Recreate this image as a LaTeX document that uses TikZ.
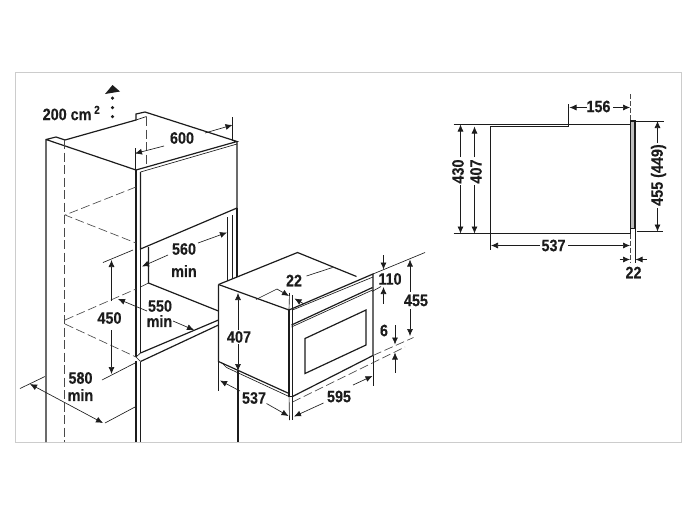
\documentclass[tikz,border=0pt]{standalone}
\usepackage{fontspec}
\usetikzlibrary{arrows.meta}
\newfontfamily\dimfont{Liberation Sans Bold}[FakeStretch=0.87,FakeBold=0.25]
\definecolor{ink}{HTML}{1c1c1c}
\tikzset{
  dimtext/.style={font=\dimfont\fontsize{16.5}{16.5}\selectfont,text=ink,inner sep=0pt},
  body/.style={draw=ink,line width=1.2pt},
  thin/.style={draw=ink,line width=0.65pt},
  hidden/.style={draw=ink!80,line width=0.65pt,dash pattern=on 9pt off 3.5pt},
  dimarrow/.style={draw=ink,line width=0.65pt,-{Latex[length=7pt,width=6pt]}},
}
\begin{document}
\begin{tikzpicture}[x=1pt,y=-1pt]
\useasboundingbox (0,0) rectangle (700,525);
\draw[color=black!20,line width=1pt] (15,72.5) rectangle (681.5,442);

% cabinet
\coordinate (c1) at (46,442);
\coordinate (c2) at (46,139.5);
\coordinate (c3) at (56,137);
\coordinate (c4) at (65,140);
\coordinate (c5) at (136,120);
\coordinate (c6) at (136,114);
\coordinate (c7) at (145,112);
\coordinate (c8) at (146.5,116.5);
\coordinate (c9) at (237,141.5);
\coordinate (c10) at (136,170);
\coordinate (c11) at (237,208);
\coordinate (c12) at (140.5,249);
\coordinate (c13) at (140.5,172);
\coordinate (c14) at (237,144);
\coordinate (c15) at (136,357);
\coordinate (c16) at (136,361);
\coordinate (c17) at (136,442);
\coordinate (c18) at (140.5,353);
\coordinate (c19) at (140.5,361.5);
\coordinate (c20) at (140.5,442);
\coordinate (c21) at (148.5,247);
\coordinate (c22) at (148.5,283);
\coordinate (c23) at (140.5,287);
\coordinate (c24) at (218.5,311);
\coordinate (c25) at (218.5,320);
\coordinate (c26) at (218.5,325);
\coordinate (c27) at (227.5,217);
\coordinate (c28) at (227.5,281);
\coordinate (c29) at (232.5,215);
\coordinate (c30) at (232.5,279);
\coordinate (c31) at (237,277);
\draw[body] (c1) -- (c2) -- (c3) -- (c4) -- (c5) -- (c6) -- (c7) -- (c9) -- (c10) -- (c2);
\draw[body] (c10) -- (c15);
\draw[body] (c16) -- (c17);
\draw[body] (c13) -- (c12) -- (c11) -- (c9);
\draw[thin] (c13) -- (c14);
\draw[thin] (c5) -- (c8);
\draw[body] (c18) -- (c13);
\draw[body] (c19) -- (c20);
\draw[body] (c21) -- (c22) -- (c24);
\draw[thin] (c22) -- (c23);
\draw[body] (c18) -- (c25);
\draw[body] (c19) -- (c26);
\draw[thin] (c15) -- (c18);
\draw[thin] (c15) -- (c19);
\draw[thin] (c27) -- (c28);
\draw[thin] (c29) -- (c30);
\draw[body] (c11) -- (c31);

% hidden edges
\coordinate (h1) at (64.5,140);
\coordinate (h2) at (64.5,442);
\coordinate (h3) at (146.5,117);
\coordinate (h4) at (146.5,168);
\coordinate (h5) at (65,215);
\coordinate (h6) at (136,187);
\coordinate (h7) at (136,243);
\coordinate (h8) at (65,320);
\coordinate (h9) at (136,289);
\coordinate (h10) at (65,324);
\coordinate (h11) at (136,357);
\draw[hidden] (h1) -- (h2);
\draw[hidden] (h3) -- (h4);
\draw[hidden] (h6) -- (h5) -- (h7);
\draw[hidden] (h8) -- (h9);
\draw[hidden] (h10) -- (h11);

% vent
\coordinate (a1) at (112.5,85);
\coordinate (a2) at (105,94);
\coordinate (a3) at (120,91.5);
\fill[ink] (a1) -- (a2) -- (a3) -- cycle;
\foreach \dotname/\ypos in {d1/98,d2/107.5,d3/116.5}{
  \node[fill=ink,circle,inner sep=0pt,minimum size=3.5pt] (\dotname) at (112.5,\ypos) {};
}
\node[dimtext] (t200) at (71.5,113) {200 cm\,\textsuperscript{2}};

% cabinet dimensions
\node[dimtext] (t600) at (182,138) {600};
\coordinate (w1) at (164,146);
\coordinate (w2) at (135,153.5);
\coordinate (w3) at (205,133);
\coordinate (w4) at (232.5,125);
\coordinate (w5) at (232.5,117);
\coordinate (w6) at (232.5,141);
\coordinate (w7) at (135,148);
\coordinate (w8) at (135,170);
\draw[dimarrow] (w1) -- (w2);
\draw[dimarrow] (w3) -- (w4);
\draw[thin] (w5) -- (w6);
\draw[thin] (w7) -- (w8);

\node[dimtext] (t560) at (184,249) {560};
\node[dimtext] (t560m) at (184,271) {min};
\coordinate (m1) at (198,243);
\coordinate (m2) at (227,232.5);
\coordinate (m3) at (168,255);
\coordinate (m4) at (142,266.5);
\draw[dimarrow] (m1) -- (m2);
\draw[dimarrow] (m3) -- (m4);

\node[dimtext] (t450) at (109.5,318) {450};
\coordinate (n1) at (111.5,301);
\coordinate (n2) at (111.5,260);
\coordinate (n3) at (111.5,330);
\coordinate (n4) at (111.5,374);
\coordinate (n5) at (103,262.5);
\coordinate (n6) at (133,250);
\coordinate (n7) at (102,380);
\coordinate (n8) at (135,363);
\draw[dimarrow] (n1) -- (n2);
\draw[dimarrow] (n3) -- (n4);
\draw[thin] (n5) -- (n6);
\draw[thin] (n7) -- (n8);

\node[dimtext] (t550) at (160,306) {550};
\node[dimtext] (t550m) at (159.5,321) {min};
\coordinate (p1) at (147,311);
\coordinate (p2) at (118,299);
\coordinate (p3) at (173,321);
\coordinate (p4) at (194,330);
\draw[dimarrow] (p1) -- (p2);
\draw[dimarrow] (p3) -- (p4);

\node[dimtext] (t580) at (80.5,378) {580};
\node[dimtext] (t580m) at (80.5,395) {min};
\coordinate (q1) at (30,384);
\coordinate (q2) at (103,423);
\coordinate (q3) at (20,388.5);
\coordinate (q4) at (45,376.5);
\coordinate (q5) at (105,423);
\coordinate (q6) at (135,407);
\draw[dimarrow,{Latex[length=7pt,width=6pt]}-{Latex[length=7pt,width=6pt]}] (q1) -- (q2);
\draw[thin] (q3) -- (q4);
\draw[thin] (q5) -- (q6);

% oven
\coordinate (o1) at (218.5,284.5);
\coordinate (o2) at (297.5,252.5);
\coordinate (o3) at (356.5,276.5);
\coordinate (o4) at (289,310);
\coordinate (o5) at (373,274);
\coordinate (o6) at (373,355.5);
\coordinate (o7) at (292.5,396.5);
\coordinate (o8) at (289,393.5);
\coordinate (o9) at (218.5,361.5);
\coordinate (o10) at (292.5,310);
\coordinate (o11) at (373,277);
\coordinate (o12) at (291.5,325);
\coordinate (o13) at (372.5,287.5);
\coordinate (o14) at (291.5,327);
\coordinate (o15) at (372.5,290);
\coordinate (o16) at (221.5,362.5);
\coordinate (o17) at (226.5,367.5);
\coordinate (o18) at (289,396.5);
\draw[body] (o1) -- (o2) -- (o3);
\draw[body] (o1) -- (o4) -- (o5) -- (o6) -- (o7);
\draw[body] (o1) -- (o9) -- (o8);
\draw[body] (o4) -- (o8) -- (o18) -- (o7) -- (o10);
\draw[thin] (o10) -- (o11);
\draw[body] (o12) -- (o13);
\draw[thin] (o14) -- (o15);
\draw[thin] (o16) -- (o17) -- (o18);

\coordinate (g1) at (305,338.5);
\coordinate (g2) at (366,310);
\coordinate (g3) at (366,345);
\coordinate (g4) at (305,373.5);
\draw[body] (g1) -- (g2) -- (g3) -- (g4) -- cycle;

% oven dimensions
\node[dimtext] (t407) at (239,337) {407};
\coordinate (r1) at (238,330);
\coordinate (r2) at (238,293);
\coordinate (r3) at (238,344);
\coordinate (r4) at (238,371);
\coordinate (r5) at (238,442);
\draw[dimarrow] (r1) -- (r2);
\draw[dimarrow] (r3) -- (r4);
\draw[body] (r4) -- (r5);

\node[dimtext] (t22) at (294,280.5) {22};
\coordinate (s1) at (256,299.5);
\coordinate (s2) at (277,289);
\coordinate (s3) at (289,296);
\coordinate (s4) at (304,304);
\coordinate (s5) at (294.5,298.5);
\coordinate (s6) at (306.5,276);
\coordinate (s7) at (332.5,267.5);
\coordinate (s8) at (289.5,293);
\coordinate (s9) at (292.5,295);
\draw[thin] (s1) -- (s2);
\draw[dimarrow] (s2) -- (s3);
\draw[dimarrow] (s4) -- (s5);
\draw[thin] (s6) -- (s7);
\draw[thin] (s8) -- (o4);
\draw[thin] (s9) -- (o10);

\node[dimtext] (t110) at (390,279) {110};
\coordinate (u1) at (383.5,255);
\coordinate (u2) at (383.5,269.5);
\coordinate (u3) at (383.5,303.5);
\coordinate (u4) at (383.5,287);
\coordinate (u5) at (425,252.5);
\coordinate (u6) at (372,291.5);
\coordinate (u7) at (381,286.5);
\draw[dimarrow] (u1) -- (u2);
\draw[dimarrow] (u3) -- (u4);
\draw[thin] (o5) -- (u5);
\draw[thin] (u6) -- (u7);

\node[dimtext] (t455) at (416,300.5) {455};
\coordinate (x1) at (410,291.5);
\coordinate (x2) at (410,259.5);
\coordinate (x3) at (410,309);
\coordinate (x4) at (410,336);
\draw[dimarrow] (x1) -- (x2);
\draw[dimarrow] (x3) -- (x4);

\node[dimtext] (t6) at (384,330.5) {6};
\coordinate (y1) at (395,325);
\coordinate (y2) at (395,344.5);
\coordinate (y3) at (395,372.5);
\coordinate (y4) at (395,352.5);
\coordinate (y5) at (413.5,337.5);
\coordinate (y6) at (405,347);
\coordinate (y7) at (292.5,402);
\draw[dimarrow] (y1) -- (y2);
\draw[dimarrow] (y3) -- (y4);
\draw[hidden] (o6) -- (y5);
\draw[hidden] (y7) -- (y6);

\node[dimtext] (t537) at (254,398) {537};
\coordinate (z1) at (240,391);
\coordinate (z2) at (220,380.5);
\coordinate (z3) at (266.5,403.5);
\coordinate (z4) at (288.5,416);
\coordinate (z5) at (218.5,390.5);
\coordinate (z6) at (289.5,420);
\coordinate (z7) at (292.5,420);
\draw[dimarrow] (z1) -- (z2);
\draw[dimarrow] (z3) -- (z4);
\draw[thin] (o9) -- (z5);
\draw[thin] (o8) -- (z6);
\draw[thin] (o7) -- (z7);

\node[dimtext] (t595) at (339,396.5) {595};
\coordinate (k1) at (323.5,403);
\coordinate (k2) at (294,416.5);
\coordinate (k3) at (353,385);
\coordinate (k4) at (372.5,376);
\coordinate (k5) at (373,386);
\draw[dimarrow] (k1) -- (k2);
\draw[dimarrow] (k3) -- (k4);
\draw[thin] (o6) -- (k5);

% side view
\coordinate (b1) at (490.5,233.5);
\coordinate (b2) at (490.5,126.5);
\coordinate (b3) at (568.5,126.5);
\coordinate (b4) at (568.5,124.5);
\coordinate (b5) at (630.5,124.5);
\coordinate (b6) at (630.5,233.5);
\coordinate (b7) at (630.5,121);
\coordinate (b8) at (635,121);
\coordinate (b9) at (635,228.5);
\coordinate (b10) at (630.5,228.5);
\draw[body,fill=black!25] (b7) -- (b8) -- (b9) -- (b10) -- cycle;
\draw[body] (b1) -- (b2) -- (b3) -- (b4) -- (b5);
\draw[body] (b1) -- (b6) -- (b7);

\node[dimtext] (s156) at (598.5,106.5) {156};
\coordinate (e1) at (586.5,107.5);
\coordinate (e2) at (569.5,107.5);
\coordinate (e3) at (613,107.5);
\coordinate (e4) at (630,107.5);
\coordinate (e5) at (568.5,104);
\coordinate (e6) at (630.5,94);
\draw[dimarrow] (e1) -- (e2);
\draw[dimarrow] (e3) -- (e4);
\draw[thin] (e5) -- (b4);
\draw[hidden,dash pattern=on 5pt off 2pt] (e6) -- (b7);

\node[dimtext,rotate=90] (s430) at (458,171.5) {430};
\coordinate (f1) at (460.5,157);
\coordinate (f2) at (460.5,124.5);
\coordinate (f3) at (460.5,185);
\coordinate (f4) at (460.5,233.5);
\coordinate (f5) at (453.5,124.5);
\coordinate (f6) at (453.5,233.5);
\draw[dimarrow] (f1) -- (f2);
\draw[dimarrow] (f3) -- (f4);
\draw[thin] (f5) -- (b4);
\draw[thin] (f6) -- (b1);

\node[dimtext,rotate=90] (s407) at (476,171.5) {407};
\coordinate (l1) at (474.5,157);
\coordinate (l2) at (474.5,126.5);
\coordinate (l3) at (474.5,185);
\coordinate (l4) at (474.5,233.5);
\draw[dimarrow] (l1) -- (l2);
\draw[dimarrow] (l3) -- (l4);

\node[dimtext,rotate=90] (s455) at (658.5,175) {455 (449)};
\coordinate (i1) at (657.5,143);
\coordinate (i2) at (657.5,121);
\coordinate (i3) at (657.5,208);
\coordinate (i4) at (657.5,231.5);
\coordinate (i5) at (664,121);
\coordinate (i6) at (662.5,231.5);
\coordinate (i7) at (636.5,231.5);
\draw[dimarrow] (i1) -- (i2);
\draw[dimarrow] (i3) -- (i4);
\draw[thin] (b8) -- (i5);
\draw[thin] (i7) -- (i6);

\node[dimtext] (s537) at (553.5,245.5) {537};
\coordinate (j1) at (540,245.5);
\coordinate (j2) at (491,245.5);
\coordinate (j3) at (568,245.5);
\coordinate (j4) at (630,245.5);
\coordinate (j5) at (490.5,250);
\coordinate (j6) at (630.5,262);
\draw[dimarrow] (j1) -- (j2);
\draw[dimarrow] (j3) -- (j4);
\draw[thin] (b1) -- (j5);
\draw[hidden,dash pattern=on 5pt off 2pt] (b6) -- (j6);

\node[dimtext] (s22) at (633.5,272.5) {22};
\coordinate (h21) at (619.5,259.5);
\coordinate (h22) at (630,259.5);
\coordinate (h23) at (646.5,259.5);
\coordinate (h24) at (635.5,259.5);
\coordinate (h25) at (635,262.5);
\draw[dimarrow] (h21) -- (h22);
\draw[dimarrow] (h23) -- (h24);
\draw[thin] (b9) -- (h25);
\end{tikzpicture}
\end{document}
